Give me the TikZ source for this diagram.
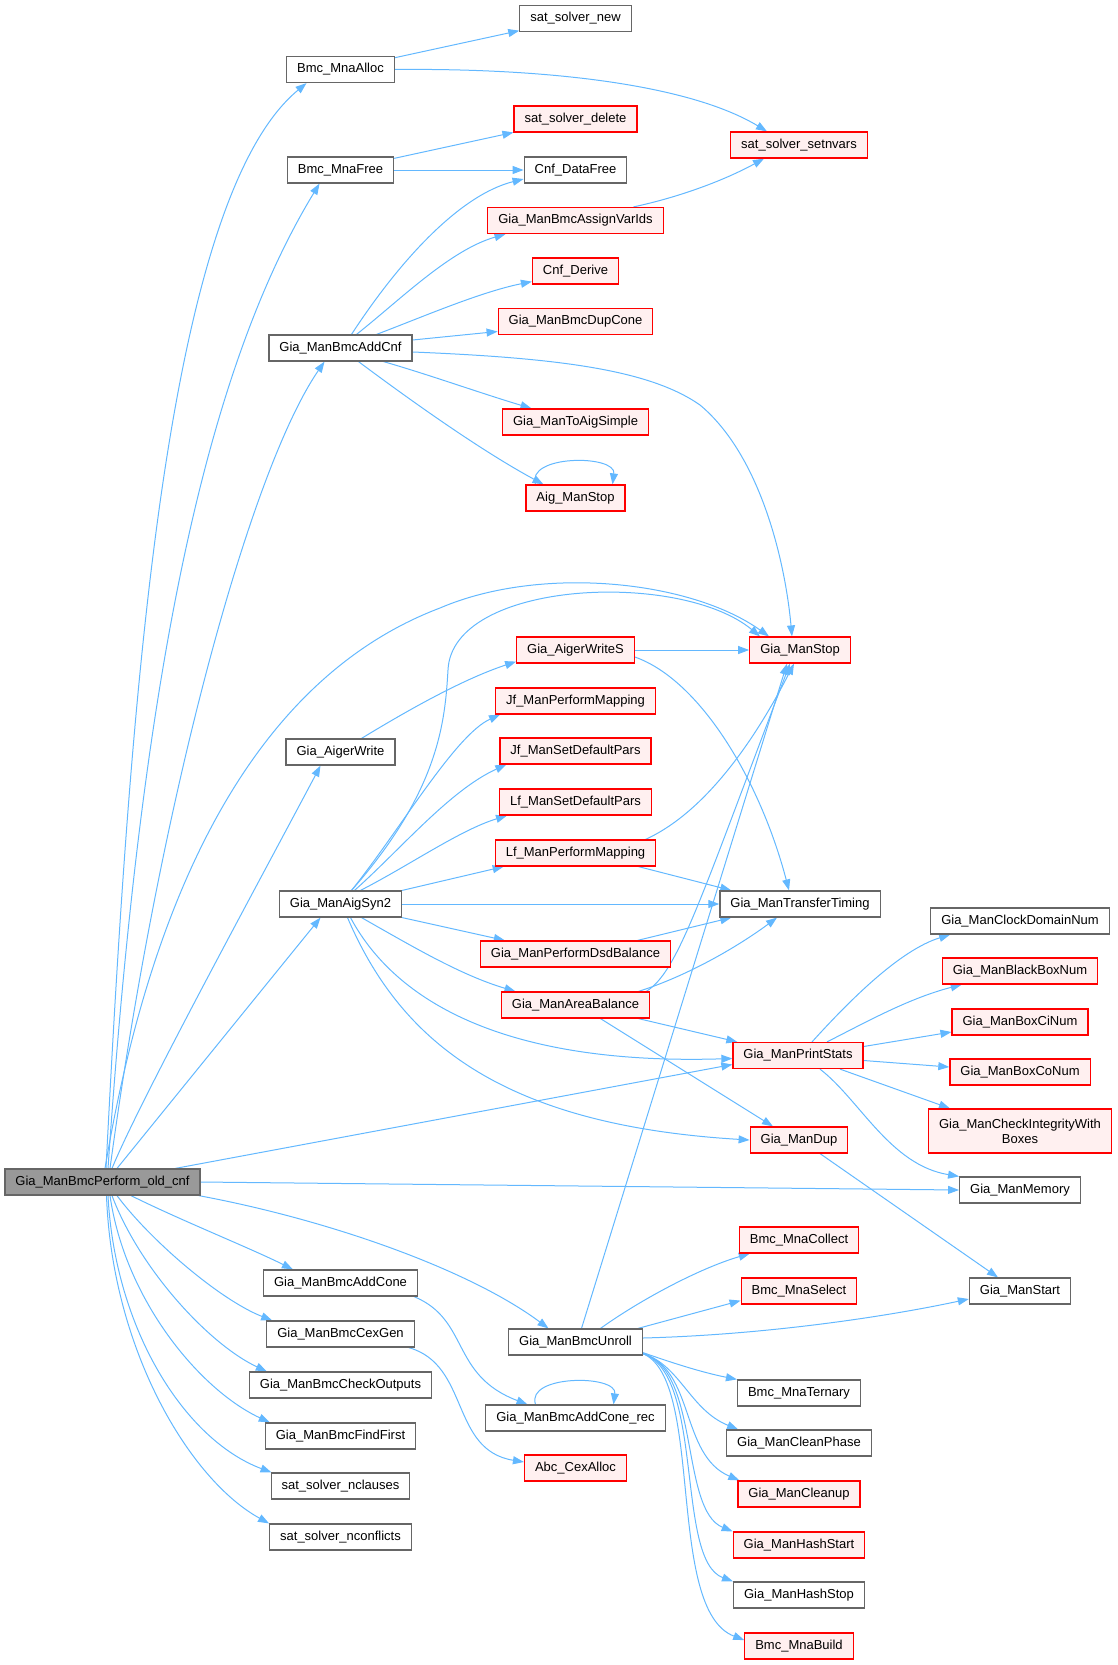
\documentclass[tikz,border=0pt]{standalone}
\usepackage{fontspec}
\setmainfont{Liberation Sans}
\usetikzlibrary{arrows.meta}
\definecolor{eblue}{HTML}{63B8FF}
\definecolor{ngray}{HTML}{666666}
\definecolor{nred}{HTML}{FF0000}
\definecolor{nfill}{HTML}{FFF0F0}
\definecolor{rootfill}{HTML}{999999}
\pgfdeclarelayer{bg}
\pgfsetlayers{bg,main}
\begin{document}
\begin{tikzpicture}[x=1pt,y=-1pt,
 nb/.style={draw=ngray, fill=white, line width=1.2pt, minimum height=26pt, inner xsep=10.5pt, inner ysep=2pt, font=\fontsize{13}{15}\selectfont},
 nr/.style={nb, draw=nred, fill=nfill},
 nroot/.style={nb, fill=rootfill},
 conn/.style={draw=eblue, line width=1pt, -{Triangle[length=11pt,width=8pt]}}]
\useasboundingbox (0,0) rectangle (1118,1665);

% column 1
\node[nroot] (R) at (102.5,1182) {Gia\_ManBmcPerform\_old\_cnf};
\node[nb] (alloc) at (340.5,69.5) {Bmc\_MnaAlloc};
\node[nb] (free) at (340.5,170) {Bmc\_MnaFree};
\node[nb] (addcnf) at (340.5,348) {Gia\_ManBmcAddCnf};
\node[nb] (aigw) at (340.5,752) {Gia\_AigerWrite};
\node[nb] (syn2) at (340.5,904) {Gia\_ManAigSyn2};
\node[nb] (addcone) at (340.5,1283) {Gia\_ManBmcAddCone};
\node[nb] (cexgen) at (340.5,1334) {Gia\_ManBmcCexGen};
\node[nb] (checkout) at (340.5,1385) {Gia\_ManBmcCheckOutputs};
\node[nb] (findfirst) at (340.5,1436) {Gia\_ManBmcFindFirst};
\node[nb] (ncl) at (340.5,1486) {sat\_solver\_nclauses};
\node[nb] (ncf) at (340.5,1537) {sat\_solver\_nconflicts};

% column 2
\node[nb] (satnew) at (575.5,18.5) {sat\_solver\_new};
\node[nr] (satdel) at (575.5,119) {sat\_solver\_delete};
\node[nb] (datafree) at (575.5,170) {Cnf\_DataFree};
\node[nr] (assign) at (575.5,220.5) {Gia\_ManBmcAssignVarIds};
\node[nr] (derive) at (575.5,271) {Cnf\_Derive};
\node[nr] (dupcone) at (575.5,321.5) {Gia\_ManBmcDupCone};
\node[nr] (toaig) at (575.5,422) {Gia\_ManToAigSimple};
\node[nr] (aigstop) at (575.5,498) {Aig\_ManStop};
\node[nr] (aigws) at (575.5,650) {Gia\_AigerWriteS};
\node[nr] (jfpm) at (575.5,701) {Jf\_ManPerformMapping};
\node[nr] (jfsdp) at (575.5,751) {Jf\_ManSetDefaultPars};
\node[nr] (lfsdp) at (575.5,802) {Lf\_ManSetDefaultPars};
\node[nr] (lfpm) at (575.5,853) {Lf\_ManPerformMapping};
\node[nr] (dsd) at (575.5,954) {Gia\_ManPerformDsdBalance};
\node[nr] (area) at (575.5,1005) {Gia\_ManAreaBalance};
\node[nb] (unroll) at (575.5,1342) {Gia\_ManBmcUnroll};
\node[nb] (addconerec) at (575.5,1418) {Gia\_ManBmcAddCone\_rec};
\node[nr] (cexalloc) at (575.5,1468) {Abc\_CexAlloc};

% column 3
\node[nr] (setnvars) at (799,145) {sat\_solver\_setnvars};
\node[nr] (gstop) at (800,650) {Gia\_ManStop};
\node[nb] (transfer) at (800,904) {Gia\_ManTransferTiming};
\node[nr] (pstats) at (798,1055.5) {Gia\_ManPrintStats};
\node[nr] (gdup) at (799,1140) {Gia\_ManDup};
\node[nr] (collect) at (799,1240) {Bmc\_MnaCollect};
\node[nr] (select) at (799,1291) {Bmc\_MnaSelect};
\node[nb] (ternary) at (799,1393) {Bmc\_MnaTernary};
\node[nb] (cleanphase) at (799,1443) {Gia\_ManCleanPhase};
\node[nr] (cleanup) at (799,1494) {Gia\_ManCleanup};
\node[nr] (hashstart) at (799,1545) {Gia\_ManHashStart};
\node[nb] (hashstop) at (799,1595) {Gia\_ManHashStop};
\node[nr] (build) at (799,1646) {Bmc\_MnaBuild};

% column 4
\node[nb] (clock) at (1020,921) {Gia\_ManClockDomainNum};
\node[nr] (bbox) at (1020,971) {Gia\_ManBlackBoxNum};
\node[nr] (boxci) at (1020,1022) {Gia\_ManBoxCiNum};
\node[nr] (boxco) at (1020,1072) {Gia\_ManBoxCoNum};
\node[nr, align=center, minimum height=44pt] (check) at (1020,1131) {Gia\_ManCheckIntegrityWith\\Boxes};
\node[nb] (memory) at (1020,1190) {Gia\_ManMemory};
\node[nb] (gstart) at (1020,1291) {Gia\_ManStart};

\begin{pgfonlayer}{bg}
% from root
\draw[conn] ([xshift=3.5]R.north) .. controls (130,700) and (165,200) .. ([xshift=-34]alloc.south);
\draw[conn] ([xshift=5.5]R.north) .. controls (140,700) and (200,380) .. ([xshift=-21]free.south);
\draw[conn] ([xshift=7.5]R.north) .. controls (160,800) and (250,470) .. ([xshift=-16]addcnf.south);
\draw[conn] ([xshift=2.5]R.north) .. controls (150,900) and (250,680) .. (440,608) .. controls (540,565) and (690,580) .. ([xshift=-31]gstop.north);
\draw[conn] ([xshift=9.5]R.north) .. controls (140,1100) and (260,880) .. ([xshift=-20]aigw.south);
\draw[conn] ([xshift=14.5]R.north) -- ([xshift=-20]syn2.south);
\draw[conn] (R) -- ([yshift=-9]pstats.west);
\draw[conn] (R.east) -- (memory.west);
\draw[conn] ([xshift=-2]R.south east) .. controls (330,1220) and (470,1270) .. ([xshift=-27]unroll.north);
\draw[conn] ([xshift=28.5]R.south) .. controls (180,1220) and (250,1248) .. ([xshift=30]addcone.north west);
\draw[conn] ([xshift=14.5]R.south) .. controls (150,1240) and (220,1300) .. ([xshift=6]cexgen.north west);
\draw[conn] ([xshift=9.5]R.south) .. controls (140,1270) and (210,1345) .. ([xshift=18]checkout.north west);
\draw[conn] ([xshift=7.5]R.south) .. controls (125,1300) and (200,1390) .. ([xshift=5]findfirst.north west);
\draw[conn] ([xshift=5.5]R.south) .. controls (115,1330) and (185,1440) .. ([xshift=1]ncl.north west);
\draw[conn] ([xshift=4]R.south) .. controls (112,1350) and (190,1480) .. (ncf.north west);

% Bmc_MnaAlloc / Bmc_MnaFree
\draw[conn] (alloc) -- (satnew);
\draw[conn] (alloc.east) .. controls (550,68) and (690,85) .. ([xshift=-32]setnvars.north);
\draw[conn] (free) -- (satdel);
\draw[conn] (free) -- (datafree);

% Gia_ManBmcAddCnf
\draw[conn] ([xshift=11]addcnf.north) .. controls (400,260) and (460,195) .. ([yshift=-9]datafree.west);
\draw[conn] ([xshift=16]addcnf.north) .. controls (400,300) and (450,250) .. ([xshift=-70]assign.south);
\draw[conn] ([xshift=36]addcnf.north) .. controls (420,318) and (480,292) .. ([yshift=3]derive.south west);
\draw[conn] ([yshift=8]addcnf.east) -- ([yshift=-10]dupcone.west);
\draw[conn] ([yshift=-4]addcnf.east) .. controls (560,358) and (650,370) .. (700,405) .. controls (760,455) and (785,560) .. ([xshift=-8]gstop.north);
\draw[conn] ([xshift=43]addcnf.south) .. controls (430,375) and (480,393) .. ([xshift=-44]toaig.north);
\draw[conn] ([xshift=18]addcnf.south) .. controls (410,400) and (480,450) .. ([xshift=-32]aigstop.north);
\draw[conn] ([xshift=-40]aigstop.north) .. controls +(-10,-30) and +(4,-30) .. ([xshift=37]aigstop.north);
\draw[conn] ([xshift=58]assign.north) .. controls (680,197) and (725,180) .. ([xshift=-35]setnvars.south);

% Gia_AigerWrite
\draw[conn] ([xshift=21]aigw.north) .. controls (400,715) and (460,680) .. ([yshift=2]aigws.south west);
\draw[conn] (aigws) -- (gstop);
\draw[conn] ([yshift=-7]aigws.east) .. controls (700,680) and (760,780) .. ([xshift=-11]transfer.north);

% Gia_ManAigSyn2
\draw[conn] ([xshift=11]syn2.north) .. controls (440,790) and (445,720) .. (448,670) .. controls (452,580) and (680,570) .. ([xshift=-40]gstop.north);
\draw[conn] ([xshift=11]syn2.north) .. controls (400,830) and (455,735) .. ([xshift=5]jfpm.south west);
\draw[conn] ([xshift=14]syn2.north) .. controls (400,850) and (450,790) .. ([xshift=7]jfsdp.south west);
\draw[conn] ([xshift=20]syn2.north) .. controls (410,865) and (460,830) .. ([xshift=8]lfsdp.south west);
\draw[conn] (syn2.north east) -- ([xshift=9]lfpm.south west);
\draw[conn] (syn2) -- (transfer);
\draw[conn] (syn2.south east) -- ([xshift=25]dsd.north west);
\draw[conn] ([xshift=21]syn2.south) .. controls (410,945) and (460,975) .. ([xshift=-60]area.north);
\draw[conn] ([xshift=10]syn2.south) .. controls (400,1010) and (520,1065) .. ([yshift=-3]pstats.west);
\draw[conn] ([xshift=7]syn2.south) .. controls (400,1040) and (500,1125) .. (gdup.west);

% second level right
\draw[conn] ([xshift=70]lfpm.north) .. controls (710,810) and (760,730) .. ([xshift=-6]gstop.south);
\draw[conn] ([xshift=63]lfpm.south) -- ([xshift=12]transfer.north west);
\draw[conn] ([xshift=62]dsd.north) -- ([xshift=12]transfer.south west);
\draw[conn] ([xshift=-4]area.north east) .. controls (678,972) and (700,900) .. ([xshift=-10]gstop.south);
\draw[conn] ([xshift=63]area.north) .. controls (690,975) and (740,945) .. ([xshift=-23]transfer.south);
\draw[conn] ([xshift=63]area.south) -- ([xshift=5]pstats.north west);
\draw[conn] ([xshift=25]area.south) -- ([xshift=-26]gdup.north);

% Gia_ManPrintStats
\draw[conn] ([xshift=14]pstats.north) .. controls (850,1000) and (900,950) .. ([xshift=20]clock.south west);
\draw[conn] ([xshift=29]pstats.north) .. controls (870,1020) and (910,998) .. ([xshift=20]bbox.south west);
\draw[conn] ([yshift=9]pstats.east) -- ([yshift=-10]boxci.west);
\draw[conn] ([yshift=-5]pstats.east) -- ([yshift=5]boxco.west);
\draw[conn] ([xshift=42]pstats.south) -- ([xshift=22]check.north west);
\draw[conn] ([xshift=22]pstats.south) .. controls (860,1100) and (890,1165) .. (memory.north west);
\draw[conn] ([xshift=21]gdup.south) -- ([xshift=-22]gstart.north);

% Gia_ManBmcUnroll
\draw[conn] ([xshift=6]unroll.north) -- ([xshift=-13]gstop.south);
\draw[conn] ([xshift=25]unroll.north) .. controls (640,1300) and (700,1268) .. ([xshift=11]collect.south west);
\draw[conn] ([xshift=-5]unroll.north east) -- ([yshift=4]select.south west);
\draw[conn] ([yshift=4]unroll.east) .. controls (760,1335) and (880,1318) .. ([yshift=-8]gstart.west);
\draw[conn] ([yshift=3]unroll.south east) .. controls (670,1362) and (700,1372) .. (ternary.north west);
\draw[conn] ([yshift=2]unroll.south east) .. controls (680,1365) and (690,1410) .. ([xshift=12]cleanphase.north west);
\draw[conn] ([yshift=2]unroll.south east) .. controls (695,1370) and (680,1455) .. ([xshift=2]cleanup.north west);
\draw[conn] ([yshift=2]unroll.south east) .. controls (700,1370) and (680,1510) .. (hashstart.north west);
\draw[conn] ([yshift=2]unroll.south east) .. controls (705,1375) and (675,1560) .. (hashstop.north west);
\draw[conn] ([yshift=2]unroll.south east) .. controls (705,1380) and (665,1610) .. ([yshift=6]build.west);

% AddCone / CexGen
\draw[conn] ([xshift=-4]addcone.south east) .. controls (470,1320) and (450,1375) .. ([xshift=-48]addconerec.north);
\draw[conn] ([xshift=-40]addconerec.north) .. controls +(-10,-30) and +(4,-30) .. ([xshift=38]addconerec.north);
\draw[conn] ([xshift=-6]cexgen.south east) .. controls (470,1365) and (450,1450) .. ([yshift=6]cexalloc.west);
\end{pgfonlayer}
\end{tikzpicture}
\end{document}
